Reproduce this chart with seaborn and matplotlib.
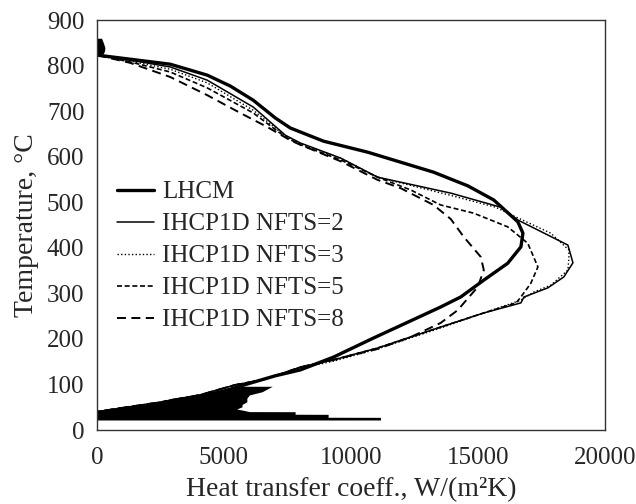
import matplotlib
matplotlib.use("Agg")
import matplotlib.pyplot as plt
import seaborn as sns
import pandas as pd

# temperature (degC) / heat transfer coefficient (W/m2K)
lhcm_T = [823, 814, 803, 779, 755, 724, 685, 663, 634, 610, 566, 536, 505, 457, 432, 402, 366, 329, 292, 270, 202, 160, 132, 119, 103, 83, 66, 48, 35]
lhcm_h = [0, 1300, 2880, 4340, 5250, 6150, 7020, 7610, 8920, 10650, 13250, 14600, 15620, 16570, 16770, 16690, 16170, 15230, 14320, 13530, 10890, 9310, 8010, 7020, 6040, 4850, 3270, 1700, 0]

n2_T = [823, 812, 797, 768, 709, 647, 630, 597, 555, 520, 489, 461, 406, 367, 336, 312, 292, 279, 257, 226, 180, 154, 138, 125, 110, 99, 77, 61, 48, 40]
n2_h = [0, 1300, 2880, 4340, 6150, 7420, 8010, 9590, 11050, 13930, 15900, 16570, 18540, 18740, 18380, 17750, 16810, 16690, 15230, 13530, 11050, 9310, 8010, 7340, 6510, 5440, 4060, 2490, 910, 0]

n3_T = [823, 810, 792, 762, 702, 645, 628, 597, 555, 515, 489, 476, 432, 395, 377, 351, 318, 303, 285, 257, 224, 178, 151, 136, 125, 110, 99, 77, 61, 48, 40]
n3_h = [0, 1300, 2880, 4340, 6150, 7420, 8010, 9590, 11050, 13930, 15700, 16170, 17870, 18580, 18580, 18540, 17870, 17200, 16690, 15230, 13530, 11050, 9310, 8010, 7340, 6510, 5440, 4060, 2490, 910, 0]

n5_T = [823, 808, 786, 751, 696, 643, 626, 593, 555, 527, 494, 476, 446, 410, 358, 322, 292, 279, 257, 226, 180, 154, 138, 125, 110, 99, 77, 61, 48, 40]
n5_h = [0, 1300, 2880, 4340, 6150, 7420, 8010, 9590, 11050, 12350, 13530, 14830, 16170, 16960, 17360, 17080, 16690, 16500, 15230, 13530, 11050, 9310, 8010, 7340, 6510, 5440, 4060, 2490, 910, 0]

n8_T = [823, 806, 775, 735, 696, 665, 636, 626, 590, 549, 531, 494, 463, 424, 380, 351, 314, 263, 235, 204, 178, 154, 138, 125, 110, 99, 77, 61, 48, 40]
n8_h = [0, 1300, 2880, 4340, 5640, 6710, 7610, 8010, 9590, 11050, 11950, 13250, 13930, 14440, 15110, 15230, 14990, 14200, 13530, 12350, 11050, 9310, 8010, 7340, 6510, 5440, 4060, 2490, 910, 0]

# noisy band at low temperature (IHCP oscillations)
noise_T = [22, 27.8, 28, 34.4, 34.6, 40.2, 40.4, 44, 46, 51, 56, 62, 70, 77, 84, 90, 96]
noise_lo = [0, 0, 0, 0, 0, 0, 0, 0, 500, 1240, 1900, 2550, 2950, 3870, 4500, 5000, 5440]
noise_hi = [11160, 11160, 9100, 9100, 7800, 7800, 6000, 5700, 5500, 5710, 5710, 5900, 5900, 6000, 6500, 6700, 6900]

# noisy start at the top
start_T = [826, 833, 840, 850, 860]
start_hi = [250, 300, 310, 250, 180]

series = [
    ("LHCM", lhcm_h, lhcm_T, 2.4, "-"),
    ("IHCP1D NFTS=2", n2_h, n2_T, 1.1, "-"),
    ("IHCP1D NFTS=3", n3_h, n3_T, 1.0, (0, (1, 1.6))),
    ("IHCP1D NFTS=5", n5_h, n5_T, 1.2, (0, (3, 1.6))),
    ("IHCP1D NFTS=8", n8_h, n8_T, 1.4, (0, (4.6, 2.8))),
]

sns.set_style("white")
plt.rcParams["font.family"] = ["Liberation Serif", "DejaVu Serif"]

fig = plt.figure(figsize=(6.36, 5.04), dpi=100)
ax = fig.add_axes([0.1525, 0.1468, 0.7987, 0.8135])

for name, h, T, lw, ls in series:
    df = pd.DataFrame({"h": h, "T": T})
    sns.lineplot(data=df, x="h", y="T", sort=False, estimator=None, ax=ax,
                 color="black", lw=lw, linestyle=ls, label=name)

ax.fill_betweenx(noise_T, noise_lo, noise_hi, color="black", lw=0)
ax.fill_betweenx(start_T, [0] * len(start_T), start_hi, color="black", lw=0)

ax.set_xlim(0, 20000)
ax.set_ylim(0, 900)
ax.set_xticks(range(0, 20001, 5000))
ax.set_yticks(range(0, 901, 100))
ax.tick_params(axis="x", direction="in", length=6, width=1, labelsize=18, pad=12)
ax.tick_params(axis="y", direction="out", length=6, width=1, labelsize=18, pad=3)
for s in ax.spines.values():
    s.set_color("#333333")
    s.set_linewidth(1)

ax.set_xlabel("Heat transfer coeff., W/(m²K)", fontsize=20, labelpad=6)
ax.set_ylabel("Temperature, °C", fontsize=20, labelpad=6)

ax.legend(loc="center left", bbox_to_anchor=(0.039, 0.424), frameon=False,
          fontsize=18, handlelength=1.5, handletextpad=0.3, labelspacing=0.38,
          borderaxespad=0, borderpad=0)

fig.savefig("out.png", dpi=100)
